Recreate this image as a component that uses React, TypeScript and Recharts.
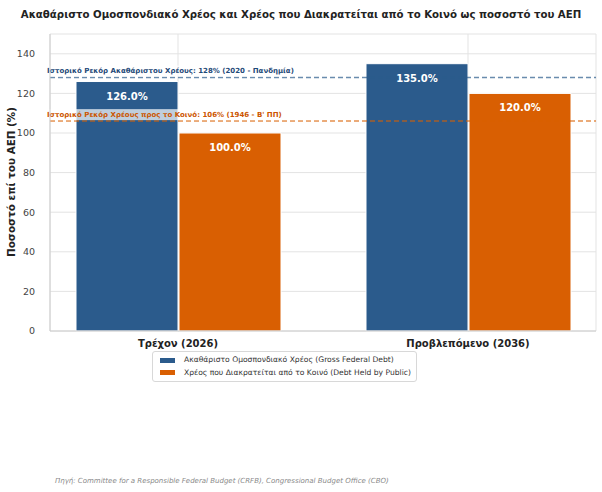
import React from "react";
import {
  BarChart,
  Bar,
  XAxis,
  YAxis,
  CartesianGrid,
  ReferenceLine,
  LabelList,
} from "recharts";

const CATEGORIES = ["Τρέχον (2026)", "Προβλεπόμενο (2036)"];
const GROSS_DEBT = [126, 135];
const PUBLIC_DEBT = [100, 120];
const Y_TICKS = [0, 20, 40, 60, 80, 100, 120, 140];

const RECORD_GROSS = 128;
const RECORD_PUBLIC = 106;

const BLUE = "#2b5b8c";
const ORANGE = "#d95f02";
const FONT = "'DejaVu Sans', sans-serif";

const SERIES = [
  { key: "gross", name: "Ακαθάριστο Ομοσπονδιακό Χρέος (Gross Federal Debt)", color: BLUE },
  { key: "pub", name: "Χρέος που Διακρατείται από το Κοινό (Debt Held by Public)", color: ORANGE },
];

const data = CATEGORIES.map((c, i) => ({
  name: c,
  gross: GROSS_DEBT[i],
  pub: PUBLIC_DEBT[i],
}));

function BarValue(props: any) {
  const { x, y, width, value } = props;
  return (
    <text
      x={x + width / 2}
      y={y + 15}
      textAnchor="middle"
      dominantBaseline="middle"
      fill="#ffffff"
      fontSize={10}
      fontWeight="bold"
      fontFamily={FONT}
    >
      {`${Number(value).toFixed(1)}%`}
    </text>
  );
}

function RefLabel({ viewBox, text, color, boxWidth }: any) {
  if (!viewBox) return null;
  const y = viewBox.y;
  return (
    <g>
      <rect x={45} y={y - 12} width={boxWidth} height={11} fill="#ffffff" fillOpacity={0.7} />
      <text
        x={47}
        y={y - 6}
        dominantBaseline="middle"
        fill={color}
        fontSize={7}
        fontWeight="bold"
        fontFamily={FONT}
      >
        {text}
      </text>
    </g>
  );
}

function YLabel() {
  return (
    <text
      x={12}
      y={182}
      transform="rotate(-90 12 182)"
      textAnchor="middle"
      dominantBaseline="middle"
      fill="#222"
      fontSize={10.4}
      fontWeight="bold"
      fontFamily={FONT}
    >
      Ποσοστό επί του ΑΕΠ (%)
    </text>
  );
}

export default function App() {
  return (
    <div
      style={{
        position: "absolute",
        left: 0,
        top: 0,
        width: 602,
        height: 492,
        background: "#fff",
        fontFamily: FONT,
      }}
    >
      <div
        style={{
          position: "absolute",
          top: 9,
          width: 602,
          textAlign: "center",
          fontSize: 10.2,
          fontWeight: "bold",
          color: "#222",
        }}
      >
        Ακαθάριστο Ομοσπονδιακό Χρέος και Χρέος που Διακρατείται από το Κοινό ως ποσοστό του ΑΕΠ
      </div>
      <BarChart
        width={602}
        height={492}
        data={data}
        margin={{ top: 34, right: 6, bottom: 131, left: 0 }}
        barGap={1}
        style={{ position: "absolute", left: 0, top: 0 }}
      >
        <CartesianGrid stroke="#e3e3e3" strokeWidth={1} horizontal vertical />
        <XAxis
          dataKey="name"
          height={30}
          padding={{ left: -17, right: -17 }}
          axisLine={{ stroke: "#cccccc" }}
          tickLine={false}
          tickMargin={3}
          tick={{ fontSize: 10, fontWeight: "bold", fill: "#222", fontFamily: FONT }}
        />
        <YAxis
          width={50}
          domain={[0, 150]}
          ticks={Y_TICKS}
          axisLine={{ stroke: "#cccccc" }}
          tickLine={false}
          tickMargin={9}
          tick={{ fontSize: 9.5, fill: "#444", fontFamily: FONT }}
        />
        {SERIES.map((s) => (
          <Bar
            key={s.key}
            dataKey={s.key}
            name={s.name}
            fill={s.color}
            stroke="#ffffff"
            strokeWidth={1}
            barSize={102}
            isAnimationActive={false}
          >
            <LabelList dataKey={s.key} content={<BarValue />} />
          </Bar>
        ))}
        <ReferenceLine
          y={RECORD_GROSS}
          stroke={BLUE}
          strokeOpacity={0.7}
          strokeWidth={1.5}
          strokeDasharray="5 3"
          label={
            <RefLabel
              text="Ιστορικό Ρεκόρ Ακαθάριστου Χρέους: 128% (2020 - Πανδημία)"
              color="#1f4a78"
              boxWidth={248}
            />
          }
        />
        <ReferenceLine
          y={RECORD_PUBLIC}
          stroke={ORANGE}
          strokeOpacity={0.7}
          strokeWidth={1.5}
          strokeDasharray="5 3"
          label={
            <RefLabel
              text="Ιστορικό Ρεκόρ Χρέους προς το Κοινό: 106% (1946 - Β' ΠΠ)"
              color="#cc5500"
              boxWidth={278}
            />
          }
        />
        <YLabel />
      </BarChart>
      <div
        style={{
          position: "absolute",
          top: 351,
          left: 152,
          border: "1px solid #d8d8d8",
          borderRadius: 3,
          padding: "2px 5px 2px 7px",
          background: "#fff",
          fontSize: 7.6,
          color: "#333",
          lineHeight: "12.5px",
        }}
      >
        {SERIES.map((s) => (
          <div key={s.key} style={{ display: "flex", alignItems: "center" }}>
            <span
              style={{
                display: "inline-block",
                width: 15,
                height: 5,
                background: s.color,
                marginRight: 9,
              }}
            />
            {s.name}
          </div>
        ))}
      </div>
      <div
        style={{
          position: "absolute",
          top: 477,
          left: 55,
          fontSize: 7,
          fontStyle: "italic",
          color: "#888",
        }}
      >
        Πηγή: Committee for a Responsible Federal Budget (CRFB), Congressional Budget Office (CBO)
      </div>
    </div>
  );
}
